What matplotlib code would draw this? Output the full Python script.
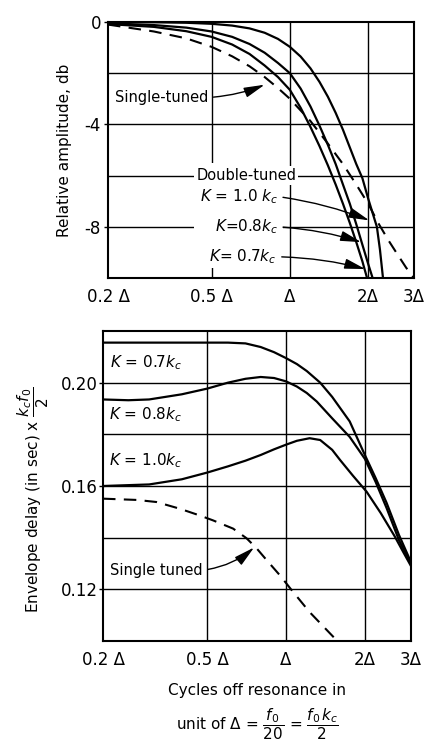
import numpy as np
import matplotlib.pyplot as plt
from matplotlib.ticker import FixedLocator, NullLocator
from matplotlib.patches import Rectangle

plt.rcParams['font.family'] = ['DejaVu Sans']
plt.rcParams['mathtext.fontset'] = 'dejavusans'

# x axis (units of delta, log scale)
x_ticks = [0.2, 0.5, 1.0, 2.0, 3.0]
x_tick_labels = ['0.2 Δ', '0.5 Δ', 'Δ', '2Δ', '3Δ']

# --- relative amplitude (db) ---
single_amp_x = [0.2, 0.3, 0.4, 0.5, 0.6, 0.7, 0.8, 0.9, 1.0, 1.2, 1.4, 1.6, 1.8, 2.0, 2.2, 2.4, 2.6, 2.8, 3.0]
single_amp = [-0.1, -0.37, -0.64, -0.97, -1.34, -1.73, -2.15, -2.58, -3.0, -3.87, -4.75, -5.55, -6.35,
              -7.1, -7.9, -8.55, -9.1, -9.6, -10.0]

k10_amp_x = [0.2, 0.3, 0.4, 0.5, 0.6, 0.7, 0.8, 0.9, 1.0, 1.1, 1.2, 1.3, 1.4, 1.5, 1.6, 1.7, 1.8,
             1.9, 2.0, 2.1, 2.16, 2.22, 2.28]
k10_amp = [0.0, -0.01, -0.03, -0.07, -0.14, -0.25, -0.42, -0.66, -0.97, -1.35, -1.81, -2.34, -2.92,
           -3.55, -4.21, -4.9, -5.55, -6.1, -6.9, -7.6, -8.0, -8.9, -10.0]

k08_amp_x = [0.2, 0.3, 0.4, 0.5, 0.6, 0.7, 0.8, 0.9, 1.0, 1.1, 1.2, 1.3, 1.4, 1.5, 1.6, 1.7, 1.8, 1.9, 2.0, 2.08]
k08_amp = [-0.05, -0.12, -0.22, -0.37, -0.58, -0.86, -1.2, -1.6, -2.0, -2.6, -3.3, -4.05, -4.8, -5.55,
           -6.35, -7.1, -7.9, -8.7, -9.45, -10.0]

k07_amp_x = [0.2, 0.3, 0.4, 0.5, 0.6, 0.7, 0.8, 0.9, 1.0, 1.1, 1.2, 1.3, 1.4, 1.5, 1.6, 1.7, 1.8, 1.9, 1.98]
k07_amp = [-0.08, -0.19, -0.36, -0.58, -0.88, -1.25, -1.7, -2.15, -2.65, -3.35, -4.1, -4.85, -5.6, -6.35,
           -7.1, -7.85, -8.6, -9.35, -10.0]

# --- envelope delay ---
k07_del_x = [0.2, 0.3, 0.4, 0.5, 0.6, 0.7, 0.8, 0.9, 1.0, 1.1, 1.2, 1.35, 1.5, 1.75, 2.0, 2.2, 2.42, 2.7, 3.0]
k07_del = [0.2155, 0.2155, 0.2155, 0.2155, 0.2155, 0.2152, 0.2138, 0.2118, 0.2095, 0.2072, 0.2045, 0.2000,
           0.1945, 0.1850, 0.1720, 0.1630, 0.1535, 0.1410, 0.1305]

k08_del_x = [0.2, 0.25, 0.3, 0.4, 0.5, 0.6, 0.7, 0.8, 0.9, 1.0, 1.1, 1.2, 1.31, 1.5, 1.75, 2.0, 2.2, 2.42, 2.7, 3.0]
k08_del = [0.1935, 0.1932, 0.1935, 0.1955, 0.1977, 0.2000, 0.2015, 0.2022, 0.2018, 0.2005, 0.1985, 0.1960,
           0.1927, 0.1862, 0.1790, 0.1705, 0.1615, 0.1515, 0.1390, 0.1300]

k10_del_x = [0.2, 0.3, 0.4, 0.5, 0.6, 0.7, 0.8, 0.9, 1.0, 1.1, 1.23, 1.35, 1.5, 1.61, 1.8, 2.03, 2.3, 2.6, 2.8, 3.0]
k10_del = [0.1600, 0.1606, 0.1626, 0.1652, 0.1676, 0.1698, 0.1720, 0.1742, 0.1760, 0.1775, 0.1785, 0.1778,
           0.1740, 0.1700, 0.1640, 0.1578, 0.1495, 0.1405, 0.1345, 0.1290]

single_del_x = [0.2, 0.27, 0.32, 0.393, 0.468, 0.526, 0.628, 0.706, 0.77, 0.84, 0.946, 1.06, 1.23, 1.47, 1.58]
single_del = [0.1551, 0.1546, 0.1538, 0.1512, 0.1486, 0.1467, 0.1435, 0.1398, 0.1360, 0.1315, 0.1255,
              0.1192, 0.1112, 0.1030, 0.0997]

amp_ticks = [0, -4, -8]
amp_grid = [-2, -4, -6, -8]
del_ticks = [0.12, 0.16, 0.20]
del_grid = [0.12, 0.14, 0.16, 0.18, 0.20]

dash = (0, (6, 4))
arrow = dict(arrowstyle='-|>,head_length=0.9,head_width=0.22', color='black', lw=1.0,
             mutation_scale=14, shrinkA=2, shrinkB=0, relpos=(1, 0.5))
white = dict(boxstyle='square,pad=0.15', fc='white', ec='none')


def style_axis(ax, ylim, yticks, ylabels, ygrid):
    ax.set_xscale('log')
    ax.set_xlim(0.2, 3.0)
    ax.set_ylim(*ylim)
    ax.xaxis.set_major_locator(FixedLocator(x_ticks))
    ax.xaxis.set_minor_locator(NullLocator())
    ax.set_xticklabels(x_tick_labels)
    ax.set_yticks(yticks)
    ax.set_yticklabels(ylabels)
    ax.yaxis.set_minor_locator(NullLocator())
    for v in [0.5, 1.0, 2.0]:
        ax.axvline(v, color='black', lw=1.0, zorder=1)
    for v in ygrid:
        ax.axhline(v, color='black', lw=1.0, zorder=1)
    ax.tick_params(axis='x', length=0, pad=7, labelsize=12)
    ax.tick_params(axis='y', length=3, width=1, pad=2, labelsize=12)
    for s in ax.spines.values():
        s.set_linewidth(1.5)


fig = plt.figure(figsize=(4.3, 7.5), dpi=100)
ax1 = fig.add_axes([108 / 430, 1 - 278 / 750, 306 / 430, 256 / 750])
ax2 = fig.add_axes([103 / 430, 1 - 641 / 750, 308 / 430, 310 / 750])

# top panel
style_axis(ax1, (-10, 0), amp_ticks, ['0', '-4', '-8'], amp_grid)
ax1.plot(single_amp_x, single_amp, color='black', lw=1.5, linestyle=dash, zorder=3)
ax1.plot(k10_amp_x, k10_amp, color='black', lw=1.6, zorder=3)
ax1.plot(k08_amp_x, k08_amp, color='black', lw=1.6, zorder=3)
ax1.plot(k07_amp_x, k07_amp, color='black', lw=1.6, zorder=3)

# blank patch behind the double-tuned label block
ax1.add_patch(Rectangle((0.43, -9.55), 0.94 - 0.43, 4.05, facecolor='white', edgecolor='none', zorder=2))

ax1.annotate('Single-tuned', xy=(0.8, -2.45), xytext=(0.213, -2.95), ha='left', va='center',
             fontsize=10.5, bbox=white, zorder=5,
             arrowprops=dict(arrow, connectionstyle='arc3,rad=0.08'))
ax1.text(0.68, -6.0, 'Double-tuned', ha='center', va='center', fontsize=10.5, bbox=white, zorder=5)
ax1.annotate(r'$K$ = 1.0 $k_c$', xy=(2.02, -7.75), xytext=(0.9, -6.82), ha='right', va='center',
             fontsize=11, bbox=white, zorder=5,
             arrowprops=dict(arrow, connectionstyle='arc3,rad=-0.06'))
ax1.annotate(r'$K$=0.8$k_c$', xy=(1.88, -8.6), xytext=(0.9, -8.0), ha='right', va='center',
             fontsize=11, bbox=white, zorder=5,
             arrowprops=dict(arrow, connectionstyle='arc3,rad=-0.06'))
ax1.annotate(r'$K$= 0.7$k_c$', xy=(1.95, -9.65), xytext=(0.89, -9.17), ha='right', va='center',
             fontsize=11, bbox=white, zorder=5,
             arrowprops=dict(arrow, connectionstyle='arc3,rad=-0.06'))

# bottom panel
style_axis(ax2, (0.10, 0.22), del_ticks, ['0.12', '0.16', '0.20'], del_grid)
ax2.tick_params(axis='y', pad=1)
ax2.plot(single_del_x, single_del, color='black', lw=1.5, linestyle=dash, zorder=3)
ax2.plot(k07_del_x, k07_del, color='black', lw=1.6, zorder=3)
ax2.plot(k08_del_x, k08_del, color='black', lw=1.6, zorder=3)
ax2.plot(k10_del_x, k10_del, color='black', lw=1.6, zorder=3)

ax2.text(0.213, 0.2078, r'$K$ = 0.7$k_c$', ha='left', va='center', fontsize=11, zorder=5)
ax2.text(0.21, 0.1875, r'$K$ = 0.8$k_c$', ha='left', va='center', fontsize=11, zorder=5)
ax2.text(0.21, 0.1698, r'$K$ = 1.0$k_c$', ha='left', va='center', fontsize=11, zorder=5)
ax2.annotate('Single tuned', xy=(0.755, 0.1362), xytext=(0.213, 0.1274), ha='left', va='center',
             fontsize=10.5, bbox=white, zorder=5,
             arrowprops=dict(arrow, connectionstyle='arc3,rad=0.15'))

# axis titles
fig.text(65 / 430, 1 - 150 / 750, 'Relative amplitude, db', rotation=90, ha='center', va='center',
         fontsize=11)
fig.text(33 / 430, 1 - 500 / 750, r'Envelope delay (in sec) x $\dfrac{k_c f_0}{2}$', rotation=90,
         ha='center', va='center', fontsize=11)
fig.text(257 / 430, 1 - 690 / 750, 'Cycles off resonance in', ha='center', va='center', fontsize=11)
fig.text(257 / 430, 1 - 724 / 750, r'unit of $\Delta$ = $\dfrac{f_0}{20}$ = $\dfrac{f_0\,k_c}{2}$',
         ha='center', va='center', fontsize=11)

fig.savefig('out.png', dpi=100, facecolor='white')
